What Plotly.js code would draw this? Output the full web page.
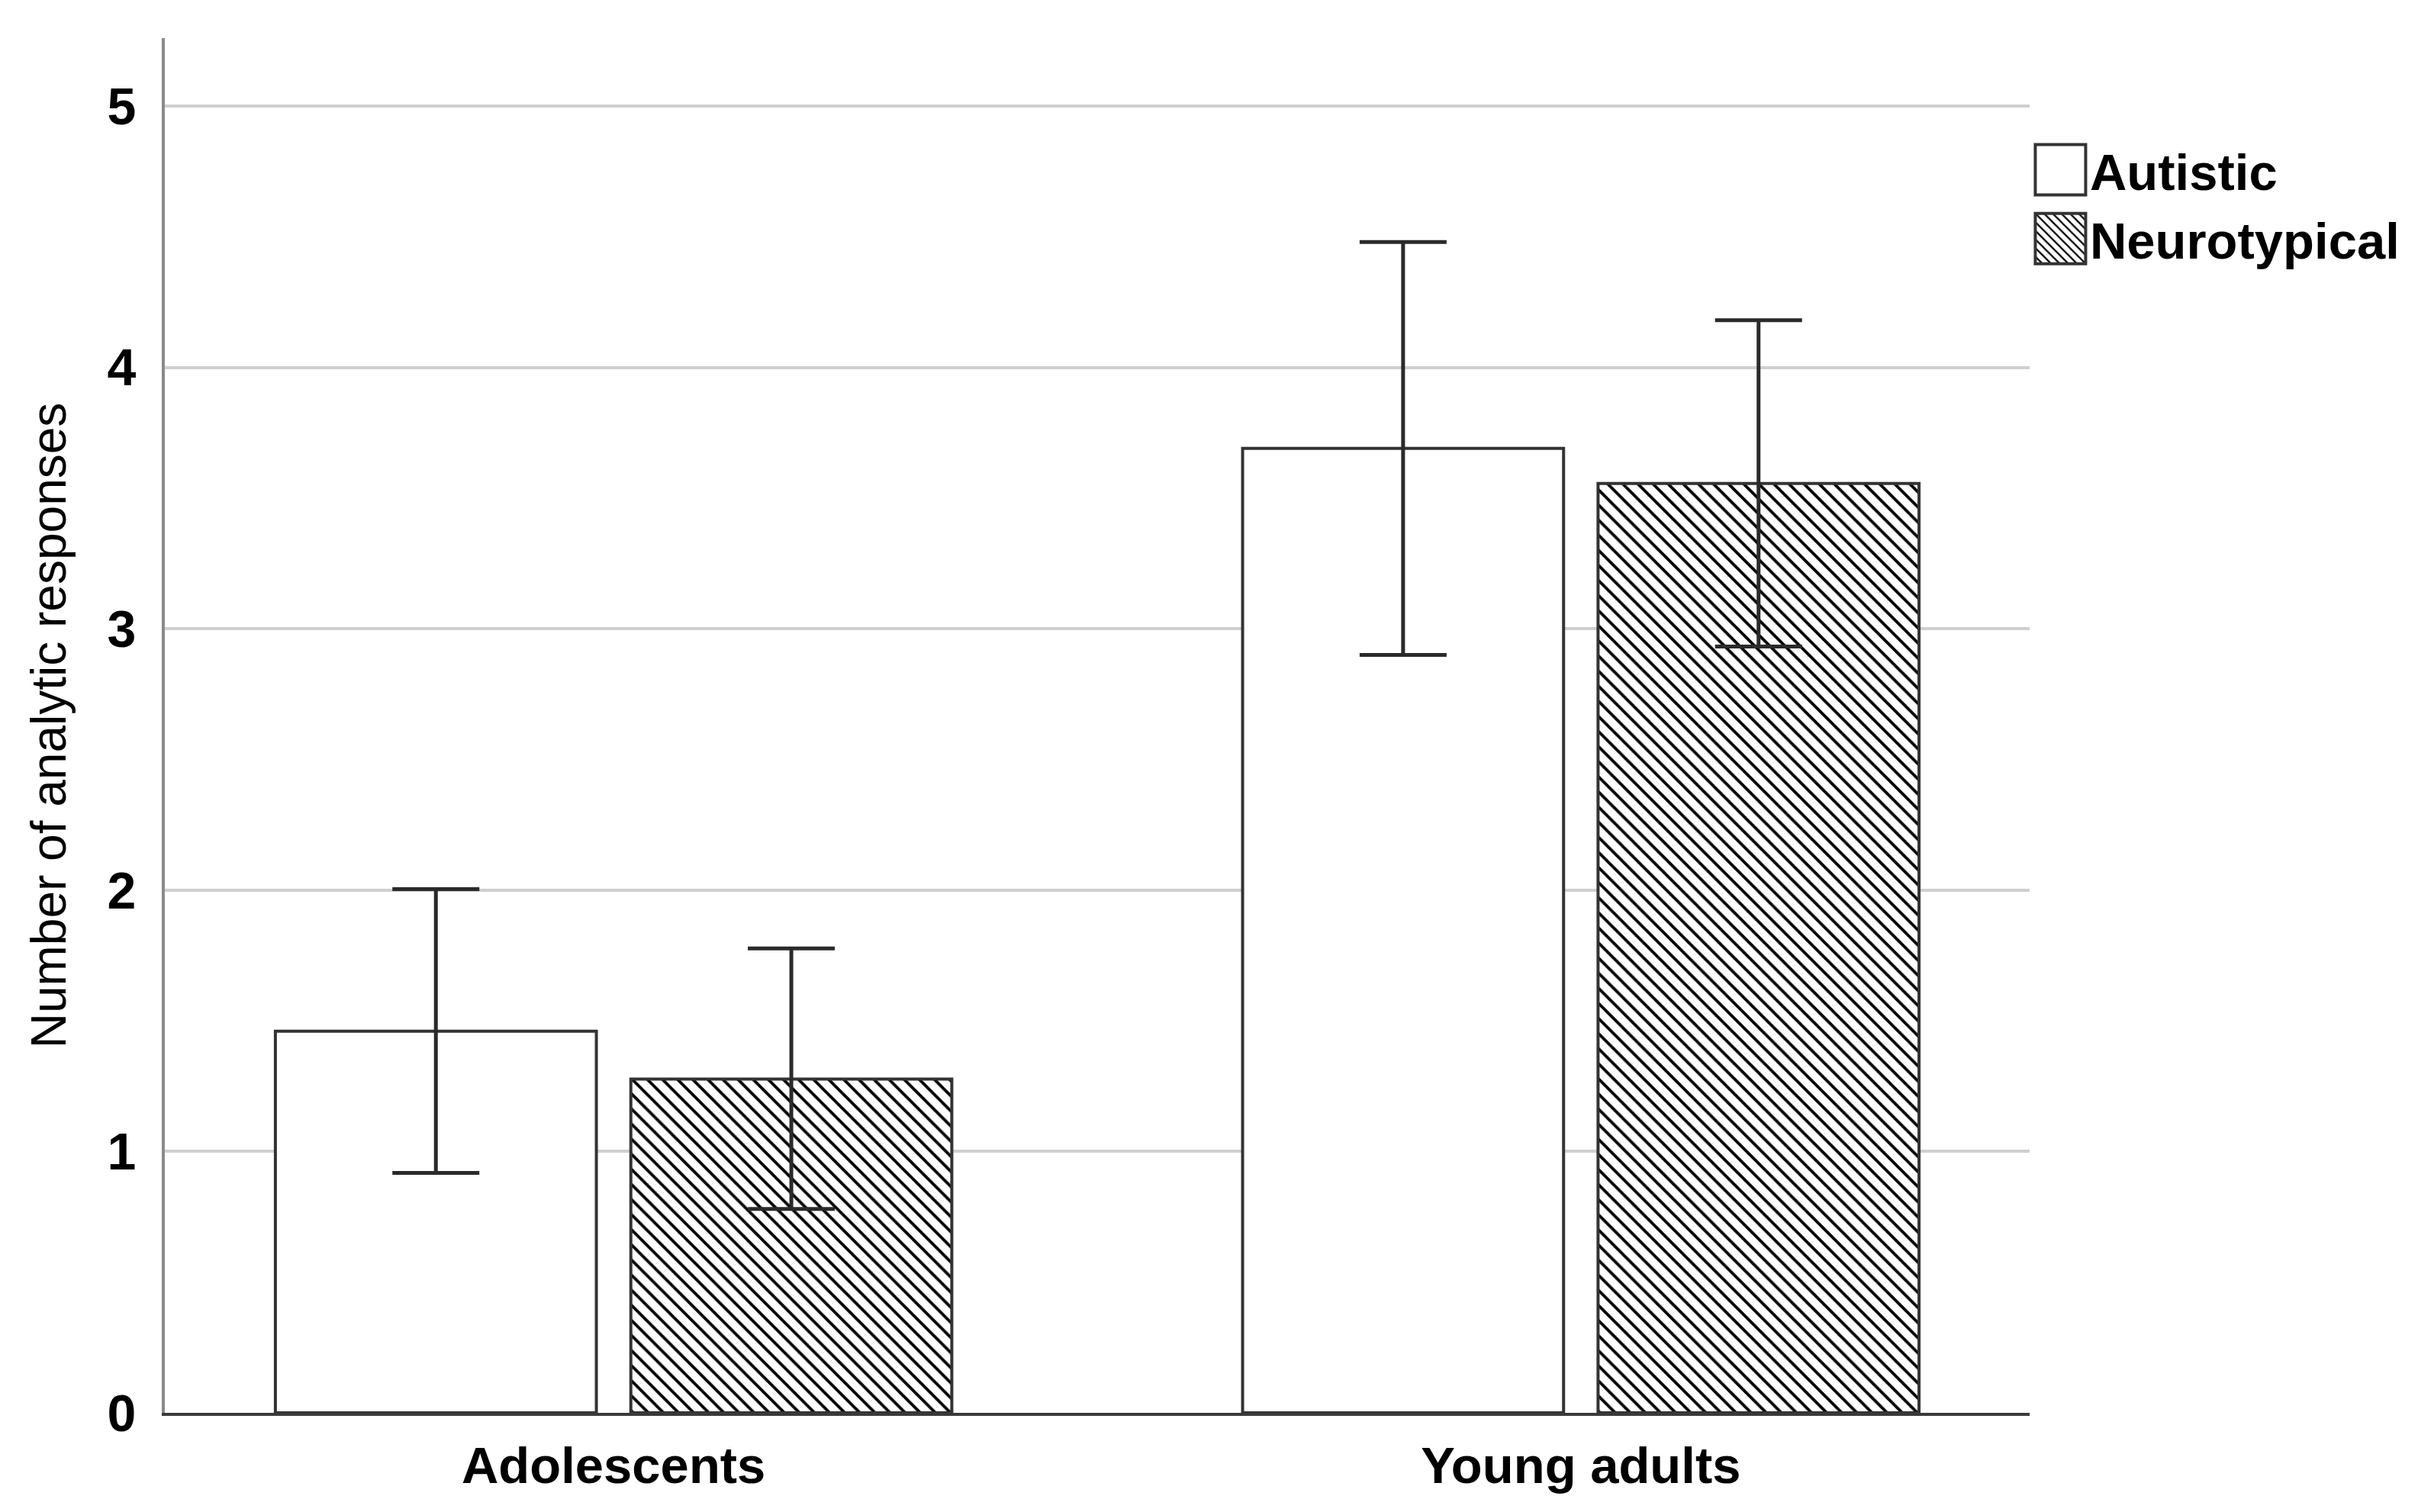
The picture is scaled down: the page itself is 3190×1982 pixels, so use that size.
<!DOCTYPE html>
<html>
<head>
<meta charset="utf-8">
<script src="https://cdn.plot.ly/plotly-3.0.1.min.js"></script>
<style>html,body{margin:0;padding:0;background:#fff;}</style>
</head>
<body>
<div id="chart" style="width:3190px;height:1982px;"></div>
<script>
// ---- data ----
const categories = ['Adolescents', 'Young adults'];
const seriesNames = ['Autistic', 'Neurotypical'];
const autisticMean = [1.46, 3.69];
const autisticErrPlus = [0.544, 0.79];
const autisticErrMinus = [0.542, 0.79];
const neuroMean = [1.277, 3.556];
const neuroErrPlus = [0.50, 0.625];
const neuroErrMinus = [0.497, 0.624];
const yTickVals = [0, 1, 2, 3, 4, 5];
const yTickText = ['0', '1', '2', '3', '4', '5'];
const yAxisTitle = 'Number of analytic responses';

const FONT = 'Liberation Sans, Arial, Helvetica, sans-serif';
const outline = {color: '#333333', width: 4};
const errStyle = {type: 'data', symmetric: false, color: '#2a2a2a', thickness: 5, width: 57};

const traces = [
  {
    type: 'bar', name: seriesNames[0], x: categories, y: autisticMean,
    marker: {color: '#ffffff', line: outline},
    error_y: Object.assign({array: autisticErrPlus, arrayminus: autisticErrMinus}, errStyle),
    hoverinfo: 'skip'
  },
  {
    type: 'bar', name: seriesNames[1], x: categories, y: neuroMean,
    marker: {color: '#ffffff', line: outline,
      pattern: {shape: '\\', size: 14, solidity: 0.28, fgcolor: '#000000', bgcolor: '#ffffff', fgopacity: 1}},
    error_y: Object.assign({array: neuroErrPlus, arrayminus: neuroErrMinus}, errStyle),
    hoverinfo: 'skip'
  }
];

const layout = {
  width: 3190, height: 1982,
  margin: {l: 216, r: 530, t: 50, b: 130, pad: 0},
  paper_bgcolor: '#ffffff', plot_bgcolor: '#ffffff',
  font: {family: FONT, color: '#000000'},
  barmode: 'group', bargap: 0.265, bargroupgap: 0.097,
  showlegend: true,
  legend: {
    x: 1.0008, xanchor: 'left', y: 0.932, yanchor: 'top',
    font: {family: FONT, size: 67, weight: 'bold', color: '#000000'},
    itemwidth: 67, bgcolor: 'rgba(0,0,0,0)', borderwidth: 0, traceorder: 'normal',
    tracegroupgap: 0
  },
  xaxis: {
    type: 'category', range: [-0.464, 1.464], fixedrange: true,
    showline: true, linecolor: '#3a3a3a', linewidth: 4,
    showgrid: false, zeroline: false, ticks: '',
    tickfont: {family: FONT, size: 67, weight: 'bold', color: '#000000'},
    ticklabelstandoff: 8
  },
  yaxis: {
    range: [0, 5.26], fixedrange: true,
    tickvals: yTickVals, ticktext: yTickText,
    showline: true, linecolor: '#8a8a8a', linewidth: 4,
    showgrid: true, gridcolor: '#cfcfcf', gridwidth: 4,
    zeroline: false, ticks: '',
    tickfont: {family: FONT, size: 68, weight: 'bold', color: '#000000'},
    ticklabelstandoff: 20,
    title: {text: yAxisTitle, font: {family: FONT, size: 64, color: '#000000'}, standoff: 34}
  }
};

Plotly.newPlot('chart', traces, layout, {staticPlot: true, displayModeBar: false}).then(function () {
  document.querySelectorAll('.legend .legendpoints path').forEach(function (p) {
    p.setAttribute('d', 'M33,33H-33V-33H33Z');
  });
});
</script>
</body>
</html>
